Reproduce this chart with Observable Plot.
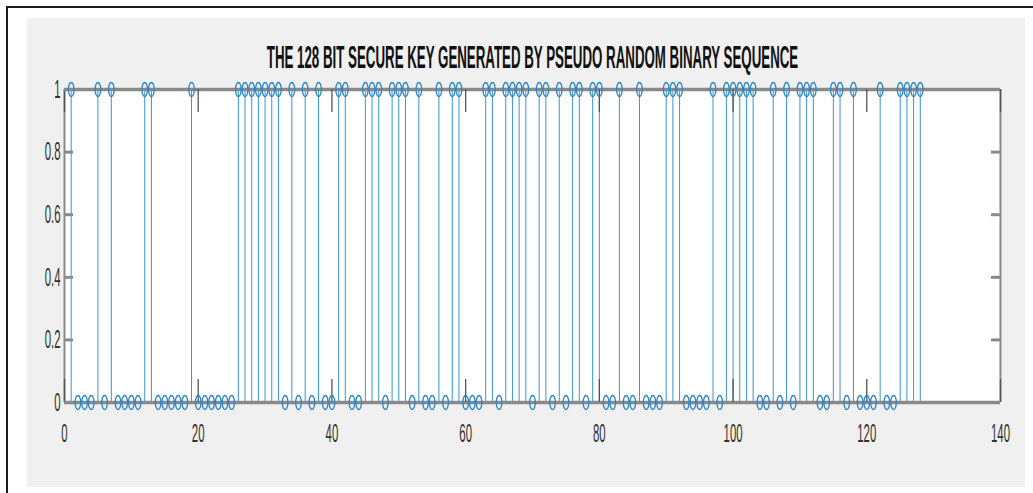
<!DOCTYPE html>
<html><head><meta charset="utf-8">
<script src="https://cdn.jsdelivr.net/npm/d3@7"></script>
<script src="https://cdn.jsdelivr.net/npm/@observablehq/plot@0.6"></script>
<style>
html,body{margin:0;padding:0;background:#fff;}
#wrap{position:relative;width:1033px;height:493px;overflow:hidden;}
#border{position:absolute;left:6px;top:6px;width:1100px;height:600px;border-left:2px solid #1c1c1c;border-top:2px solid #1c1c1c;}
#panel{position:absolute;left:27px;top:18px;width:998px;height:469px;background:#f0f0f0;}
#chart{position:absolute;left:0;top:0;}
</style></head><body>
<div id="wrap"><div id="border"></div><div id="panel"></div><div id="chart"></div></div>
<script>
const titleText = "THE 128 BIT SECURE KEY GENERATED BY PSEUDO RANDOM BINARY SEQUENCE";
const bitValues = [
  1,0,0,0,1,0,1,0,
  0,0,0,1,1,0,0,0,
  0,0,1,0,0,0,0,0,
  0,1,1,1,1,1,1,1,
  0,1,0,1,0,1,0,0,
  1,1,0,0,1,1,1,0,
  1,1,1,0,1,0,0,1,
  0,1,1,0,0,0,1,1,
  0,1,1,1,1,0,1,1,
  0,1,0,1,1,0,1,1,
  0,0,1,0,0,1,0,0,
  0,1,1,1,0,0,0,0,
  1,0,1,1,1,1,1,0,
  0,1,0,1,0,1,1,1,
  0,0,1,1,0,1,0,0,
  0,1,0,0,1,1,1,1
];
const bitIndex = bitValues.map((_, i) => i + 1);
const xDomain = [0, 140];
const yDomain = [0, 1];
const xTicks = [0, 20, 40, 60, 80, 100, 120, 140];
const xTickLabels = ["0", "20", "40", "60", "80", "100", "120", "140"];
const yTicks = [0, 0.2, 0.4, 0.6, 0.8, 1];
const yTickLabels = ["0", "0.2", "0.4", "0.6", "0.8", "1"];

const data = bitIndex.map((x, i) => ({x, v: bitValues[i]}));

const W = 1033, H = 493;
const mL = 64, mR = 33, mT = 89, mB = 91;
const plotH = H - mT - mB, plotW = W - mL - mR;
const stemColor = "#3a93d5", dotColor = "#2a86cc", boxColor = "#8a8a8a";
const xTickLen = 23 / plotH * (yDomain[1] - yDomain[0]);
const yTickLen = 9 / plotW * (xDomain[1] - xDomain[0]);

// hollow ellipse marker (the reference is vertically stretched)
const ellipse = {
  draw(ctx, size) {
    const r = Math.sqrt(size / Math.PI), a = r * 0.4, b = r, k = 0.5522847498;
    ctx.moveTo(a, 0);
    ctx.bezierCurveTo(a, k * b, k * a, b, 0, b);
    ctx.bezierCurveTo(-k * a, b, -a, k * b, -a, 0);
    ctx.bezierCurveTo(-a, -k * b, -k * a, -b, 0, -b);
    ctx.bezierCurveTo(k * a, -b, a, -k * b, a, 0);
    ctx.closePath();
  }
};

const plot = Plot.plot({
  width: W, height: H,
  marginLeft: mL, marginRight: mR, marginTop: mT, marginBottom: mB,
  x: {domain: xDomain, label: null},
  y: {domain: yDomain, label: null},
  style: {background: "transparent", fontFamily: "'Liberation Sans', Arial, sans-serif", overflow: "visible"},
  marks: [
    Plot.frame({fill: "white", stroke: "none"}),
    Plot.ruleX(data, {x: "x", y1: 0, y2: "v", stroke: stemColor, strokeWidth: 1}),
    Plot.ruleY(yDomain, {stroke: boxColor, strokeWidth: 3.5}),
    Plot.ruleX(xDomain, {stroke: boxColor, strokeWidth: 2}),
    Plot.ruleX(xTicks, {x: d => d, y1: yDomain[0], y2: yDomain[0] + xTickLen, stroke: "#555", strokeWidth: 1.3}),
    Plot.ruleX(xTicks, {x: d => d, y1: yDomain[1] - xTickLen, y2: yDomain[1], stroke: "#555", strokeWidth: 1.3}),
    Plot.ruleY(yTicks, {y: d => d, x1: xDomain[0], x2: xDomain[0] + yTickLen, stroke: boxColor, strokeWidth: 3}),
    Plot.ruleY(yTicks, {y: d => d, x1: xDomain[1] - yTickLen, x2: xDomain[1], stroke: boxColor, strokeWidth: 3}),
    Plot.axisX(xTicks, {anchor: "bottom", tickSize: 0, tickPadding: 21, fontSize: 12, fill: "#333", label: null,
      tickFormat: d => xTickLabels[xTicks.indexOf(d)]}),
    Plot.axisY(yTicks, {anchor: "left", tickSize: 0, tickPadding: 4, fontSize: 12, fill: "#333", label: null,
      tickFormat: d => yTickLabels[yTicks.indexOf(d)]}),
    Plot.dot(data, {x: "x", y: "v", r: 7, symbol: ellipse, stroke: dotColor, strokeWidth: 1.3, fill: "none"}),
    Plot.text([titleText], {text: d => d, frameAnchor: "top", dy: -22, lineAnchor: "bottom",
      fontSize: 14, fontWeight: "bold", fill: "#111"})
  ]
});
document.getElementById("chart").append(plot);

// stretch text like the (vertically stretched) reference
const svg = d3.select(plot);
svg.selectAll('g[aria-label="x-axis tick label"] text, g[aria-label="y-axis tick label"] text').each(function () {
  this.setAttribute("transform", (this.getAttribute("transform") || "") + " scale(0.95,2.15)");
});
const t = svg.select('g[aria-label="text"] text').node();
if (t) {
  const len = t.getComputedTextLength();
  const sx = 532 / len, sy = 22 / (0.716 * 14);
  t.setAttribute("transform", (t.getAttribute("transform") || "") + ` scale(${sx},${sy})`);
}
</script>
</body></html>
